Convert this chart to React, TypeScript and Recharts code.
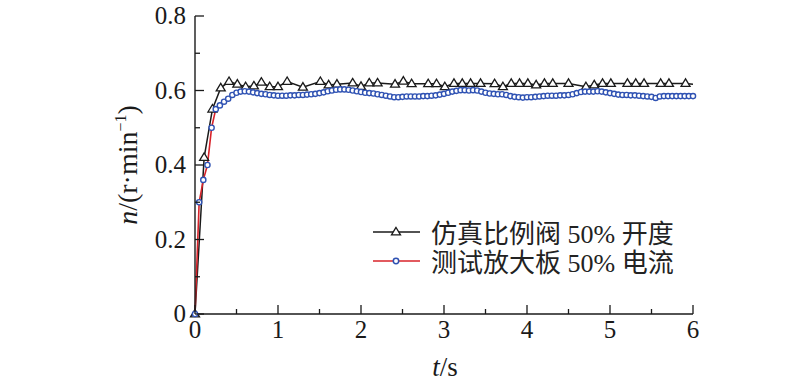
import React from "react";
import { LineChart, Line, XAxis, YAxis, Legend, Label } from "recharts";

// axis ticks (minor ones have no label)
const xTicks = [0, 0.5, 1, 1.5, 2, 2.5, 3, 3.5, 4, 4.5, 5, 5.5, 6];
const yTicks = [0, 0.1, 0.2, 0.3, 0.4, 0.5, 0.6, 0.7, 0.8];

// 仿真比例阀 50% 开度 (black, triangles)
const simTimes = [
  0, 0.11, 0.21, 0.31, 0.41, 0.51, 0.61, 0.71, 0.8, 0.9, 1.0, 1.11, 1.3, 1.51, 1.61,
  1.71, 1.9, 2.0, 2.1, 2.2, 2.41, 2.51, 2.61, 2.81, 2.91, 3.01, 3.12, 3.22, 3.32, 3.44,
  3.61, 3.71, 3.81, 3.91, 4.01, 4.11, 4.21, 4.31, 4.5, 4.71, 4.81, 4.91, 5.01, 5.21,
  5.31, 5.41, 5.61, 5.71, 5.91, 6.0,
];
const simValues = [
  0, 0.42, 0.55, 0.607, 0.624, 0.617, 0.61, 0.612, 0.622, 0.61, 0.61, 0.624, 0.609, 0.624, 0.615,
  0.617, 0.62, 0.611, 0.62, 0.62, 0.617, 0.625, 0.618, 0.618, 0.618, 0.61, 0.619, 0.619, 0.619, 0.619,
  0.618, 0.61, 0.619, 0.619, 0.619, 0.615, 0.619, 0.619, 0.619, 0.61, 0.615, 0.619, 0.619, 0.619,
  0.619, 0.619, 0.619, 0.619, 0.619, 0.617,
];

// 测试放大板 50% 电流 (red line, blue circles), sampled every 0.05 s
const testStep = 0.05;
const testValues = [
  0, 0.3, 0.36, 0.4, 0.5, 0.55, 0.56, 0.57, 0.578, 0.588,
  0.594, 0.597, 0.598, 0.597, 0.595, 0.593, 0.591, 0.59, 0.588, 0.587,
  0.586, 0.586, 0.586, 0.587, 0.587, 0.588, 0.588, 0.589, 0.59, 0.591,
  0.593, 0.595, 0.598, 0.6, 0.602, 0.603, 0.603, 0.602, 0.6, 0.598,
  0.596, 0.594, 0.593, 0.592, 0.59, 0.588, 0.586, 0.584, 0.582, 0.582,
  0.583, 0.584, 0.584, 0.584, 0.584, 0.585, 0.585, 0.586, 0.587, 0.589,
  0.591, 0.594, 0.597, 0.599, 0.601, 0.601, 0.6, 0.601, 0.6, 0.597,
  0.594, 0.592, 0.591, 0.59, 0.59, 0.588, 0.585, 0.583, 0.582, 0.581,
  0.582, 0.582, 0.583, 0.584, 0.585, 0.586, 0.586, 0.586, 0.587, 0.587,
  0.588, 0.59, 0.593, 0.596, 0.597, 0.597, 0.597, 0.598, 0.597, 0.595,
  0.593, 0.591, 0.589, 0.588, 0.588, 0.587, 0.587, 0.586, 0.585, 0.584,
  0.583, 0.58, 0.584, 0.585, 0.585, 0.585, 0.585, 0.585, 0.585, 0.585,
  0.585,
];

const simData = simTimes.map((t, i) => ({ t, v: simValues[i] }));
const testData = testValues.map((v, i) => ({ t: +(i * testStep).toFixed(2), v }));

const SERIF = "'Liberation Serif', 'Times New Roman', serif";
const LEGEND_FONT = "'Liberation Serif', 'Noto Sans CJK SC', serif";
const AXIS = "#1a1a1a";
const BLUE = "#2f52b3";
const RED = "#d8232a";

function XTick(props: any) {
  const { x, y, payload } = props;
  const v = payload.value;
  const major = Math.abs(v - Math.round(v)) < 1e-6;
  return (
    <g>
      <line x1={x} x2={x} y1={y} y2={y - (major ? 9 : 5)} stroke={AXIS} strokeWidth={1.3} />
      {major && (
        <text x={x} y={y + 24} textAnchor="middle" fontSize={25} fontFamily={SERIF} fill={AXIS}>
          {v}
        </text>
      )}
    </g>
  );
}

function YTick(props: any) {
  const { x, y, payload } = props;
  const v = payload.value;
  const major = Math.round(v * 10) % 2 === 0;
  return (
    <g>
      <line x1={x} x2={x + (major ? 9 : 5)} y1={y} y2={y} stroke={AXIS} strokeWidth={1.3} />
      {major && (
        <text x={x - 9} y={y + 8} textAnchor="end" fontSize={25} fontFamily={SERIF} fill={AXIS}>
          {v === 0 ? "0" : v.toFixed(1)}
        </text>
      )}
    </g>
  );
}

function Triangle(props: any) {
  const { cx, cy, index } = props;
  if (cx == null || cy == null || index === simData.length - 1) return <g key={`tri-${index}`} />;
  return (
    <polygon
      key={`tri-${index}`}
      points={`${cx},${cy - 4.6} ${cx - 4.5},${cy + 2.9} ${cx + 4.5},${cy + 2.9}`}
      fill="#fff" stroke={AXIS} strokeWidth={1.3}
    />
  );
}

function LegendBox() {
  const rows = [
    { label: "仿真比例阀 50% 开度", line: AXIS, marker: "tri" },
    { label: "测试放大板 50% 电流", line: RED, marker: "circle" },
  ];
  return (
    <div style={{ fontFamily: LEGEND_FONT, fontSize: 26, color: "#222" }}>
      {rows.map(r => (
        <div key={r.label} style={{ display: "flex", alignItems: "center", height: 29 }}>
          <svg width={52} height={20} style={{ marginRight: 7 }}>
            <line x1={1} x2={48} y1={10} y2={10} stroke={r.line} strokeWidth={1.5} />
            {r.marker === "tri" ? (
              <polygon points="24,5.4 19.5,12.9 28.5,12.9" fill="#fff" stroke={AXIS} strokeWidth={1.3} />
            ) : (
              <circle cx={24} cy={10} r={2.7} fill="#fff" stroke={BLUE} strokeWidth={1.5} />
            )}
          </svg>
          <span style={{ whiteSpace: "nowrap" }}>{r.label}</span>
        </div>
      ))}
    </div>
  );
}

export default function App() {
  return (
    <div style={{ width: 800, height: 387, background: "#fff" }}>
      <style>{"body{margin:0;background:#fff}"}</style>
      <LineChart width={800} height={387} margin={{ top: 16, right: 107, bottom: 33, left: 135 }}>
        <XAxis
          type="number" dataKey="t" domain={[0, 6]} ticks={xTicks} interval={0}
          height={40} tickSize={0} tickMargin={0} tick={<XTick />}
          axisLine={{ stroke: AXIS, strokeWidth: 1.4 }} allowDuplicatedCategory={false}
        >
          <Label
            content={() => (
              <text x={445} y={376} textAnchor="middle" fontSize={27} fontFamily={SERIF} fill={AXIS}>
                <tspan fontStyle="italic">t</tspan>/s
              </text>
            )}
          />
        </XAxis>
        <YAxis
          type="number" domain={[0, 0.8]} ticks={yTicks} interval={0}
          width={60} tickSize={0} tickMargin={0} tick={<YTick />}
          axisLine={{ stroke: AXIS, strokeWidth: 1.4 }}
        >
          <Label
            content={() => (
              <text
                x={127} y={165} transform="rotate(-90 127 165)" textAnchor="middle" dy={10}
                fontSize={28} fontFamily={SERIF} fill={AXIS}
              >
                <tspan fontStyle="italic">n</tspan>/(r·min
                <tspan dy={-11} fontSize={16}>−1</tspan>
                <tspan dy={11}>)</tspan>
              </text>
            )}
          />
        </YAxis>
        <Legend
          layout="vertical" align="center" verticalAlign="middle"
          content={<LegendBox />}
          wrapperStyle={{ position: "absolute", left: 372, top: 217, width: 330, height: 60 }}
        />
        <Line
          data={simData} dataKey="v" name="仿真比例阀 50% 开度" type="linear"
          stroke={AXIS} strokeWidth={1.5} dot={<Triangle />} activeDot={false}
          isAnimationActive={false}
        />
        <Line
          data={testData} dataKey="v" name="测试放大板 50% 电流" type="linear"
          stroke={RED} strokeWidth={1.6}
          dot={{ r: 2.6, fill: "#fff", stroke: BLUE, strokeWidth: 1.4 }} activeDot={false}
          isAnimationActive={false}
        />
      </LineChart>
    </div>
  );
}
